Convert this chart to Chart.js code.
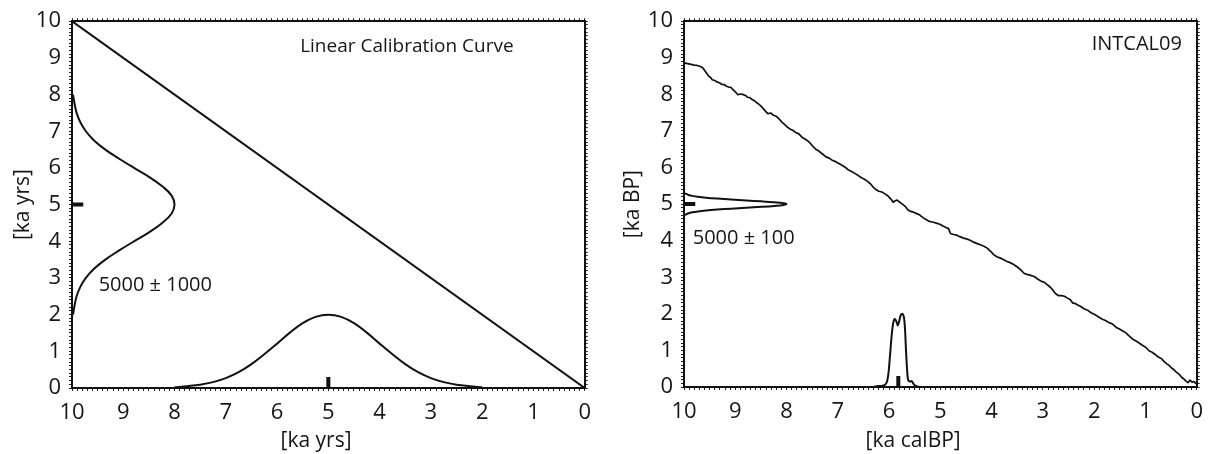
<!DOCTYPE html>
<html>
<head>
<meta charset="utf-8">
<script src="https://cdn.jsdelivr.net/npm/chart.js@4.4.1/dist/chart.umd.min.js"></script>
<style>
  html, body { margin: 0; padding: 0; background: #fff; }
  #wrap { position: relative; width: 1212px; height: 454px; }
  canvas { position: absolute; top: 0; }
  #calLinear { left: 0; }
  #calIntcal { left: 600px; }
</style>
</head>
<body>
<div id="wrap">
  <canvas id="calLinear" width="600" height="454"></canvas>
  <canvas id="calIntcal" width="612" height="454"></canvas>
</div>
<script>
// ---- left panel: linear calibration ----
const linearCurveX = [10, 0];
const linearCurveY = [10, 0];

// 5000 ± 1000 radiocarbon age, drawn along the y axis
const wideAgeY = [2, 2.25, 2.5, 2.75, 3, 3.25, 3.5, 3.75, 4, 4.25, 4.5, 4.75, 5,
                  5.25, 5.5, 5.75, 6, 6.25, 6.5, 6.75, 7, 7.25, 7.5, 7.75, 8];
const wideAgeX = [9.98, 9.95, 9.91, 9.84, 9.73, 9.57, 9.35, 9.08, 8.79, 8.49, 8.24, 8.06, 8.0,
                  8.06, 8.24, 8.49, 8.79, 9.08, 9.35, 9.57, 9.73, 9.84, 9.91, 9.95, 9.98];

// calibrated age, drawn along the x axis
const wideCalX = [8, 7.75, 7.5, 7.25, 7, 6.75, 6.5, 6.25, 6, 5.75, 5.5, 5.25, 5,
                  4.75, 4.5, 4.25, 4, 3.75, 3.5, 3.25, 3, 2.75, 2.5, 2.25, 2];
const wideCalY = [0.02, 0.05, 0.09, 0.16, 0.27, 0.43, 0.65, 0.92, 1.21, 1.51, 1.77, 1.94, 2.0,
                  1.94, 1.77, 1.51, 1.21, 0.92, 0.65, 0.43, 0.27, 0.16, 0.09, 0.05, 0.02];

// ---- right panel: INTCAL09 ----
const intcalX = [10.00, 9.93, 9.86, 9.80, 9.74, 9.68, 9.63, 9.58, 9.52, 9.48, 9.45, 9.40, 9.36, 9.30,
                 9.26, 9.22, 9.17, 9.13, 9.08, 9.04, 9.00, 8.95, 8.90, 8.86, 8.80, 8.76, 8.72, 8.67,
                 8.62, 8.58, 8.53, 8.48, 8.44, 8.40, 8.36, 8.31, 8.26, 8.20, 8.14, 8.09, 8.04, 7.98,
                 7.93, 7.88, 7.82, 7.76, 7.70, 7.64, 7.58, 7.53, 7.48, 7.43, 7.37, 7.30, 7.23, 7.16,
                 7.10, 7.04, 6.98, 6.92, 6.85, 6.79, 6.73, 6.67, 6.60, 6.54, 6.48, 6.42, 6.36, 6.30,
                 6.25, 6.20, 6.14, 6.08, 6.02, 5.96, 5.92, 5.88, 5.84, 5.79, 5.74, 5.68, 5.63, 5.58,
                 5.52, 5.46, 5.40, 5.34, 5.28, 5.22, 5.15, 5.08, 5.01, 4.95, 4.89, 4.84, 4.80, 4.74,
                 4.68, 4.62, 4.55, 4.49, 4.42, 4.35, 4.28, 4.21, 4.14, 4.08, 4.02, 3.96, 3.90, 3.84,
                 3.78, 3.71, 3.64, 3.57, 3.50, 3.43, 3.37, 3.31, 3.24, 3.17, 3.11, 3.04, 2.97, 2.91,
                 2.85, 2.80, 2.75, 2.70, 2.64, 2.58, 2.52, 2.47, 2.42, 2.37, 2.32, 2.26, 2.20, 2.13,
                 2.06, 1.99, 1.92, 1.85, 1.78, 1.71, 1.64, 1.57, 1.50, 1.44, 1.38, 1.32, 1.26, 1.20,
                 1.13, 1.06, 0.99, 0.93, 0.87, 0.81, 0.75, 0.69, 0.64, 0.59, 0.54, 0.49, 0.45, 0.41,
                 0.37, 0.33, 0.29, 0.25, 0.21, 0.17, 0.13, 0.09, 0.05, 0.02, 0.00];
const intcalY = [8.86, 8.84, 8.82, 8.80, 8.79, 8.76, 8.72, 8.62, 8.50, 8.46, 8.40, 8.38, 8.34, 8.31,
                 8.27, 8.27, 8.22, 8.20, 8.19, 8.12, 8.07, 7.99, 8.01, 8.00, 7.97, 7.92, 7.91, 7.86,
                 7.82, 7.77, 7.72, 7.65, 7.59, 7.52, 7.47, 7.49, 7.43, 7.40, 7.32, 7.24, 7.18, 7.10,
                 7.05, 7.02, 6.96, 6.92, 6.83, 6.78, 6.72, 6.65, 6.57, 6.50, 6.45, 6.37, 6.29, 6.25,
                 6.19, 6.16, 6.11, 6.06, 6.00, 5.93, 5.89, 5.84, 5.78, 5.72, 5.68, 5.62, 5.55, 5.45,
                 5.39, 5.35, 5.33, 5.28, 5.22, 5.13, 5.05, 5.09, 5.11, 5.05, 5.00, 4.93, 4.84, 4.80,
                 4.78, 4.74, 4.70, 4.63, 4.58, 4.53, 4.51, 4.48, 4.45, 4.40, 4.36, 4.33, 4.19, 4.17,
                 4.15, 4.11, 4.07, 4.05, 4.01, 3.96, 3.92, 3.88, 3.84, 3.79, 3.71, 3.62, 3.56, 3.53,
                 3.49, 3.44, 3.40, 3.35, 3.28, 3.20, 3.11, 3.08, 3.05, 3.02, 2.96, 2.90, 2.86, 2.79,
                 2.72, 2.64, 2.55, 2.50, 2.50, 2.48, 2.43, 2.39, 2.30, 2.28, 2.24, 2.20, 2.14, 2.10,
                 2.03, 1.98, 1.92, 1.86, 1.82, 1.76, 1.72, 1.63, 1.58, 1.53, 1.48, 1.40, 1.32, 1.27,
                 1.21, 1.14, 1.08, 0.99, 0.95, 0.89, 0.82, 0.78, 0.70, 0.64, 0.59, 0.52, 0.48, 0.42,
                 0.38, 0.33, 0.26, 0.22, 0.16, 0.12, 0.19, 0.13, 0.15, 0.10, 0.10];

// 5000 ± 100 radiocarbon age along the y axis
const narrowAgeY = [4.7, 4.725, 4.75, 4.775, 4.8, 4.825, 4.85, 4.875, 4.9, 4.925, 4.95, 4.975, 5,
                    5.025, 5.05, 5.075, 5.1, 5.125, 5.15, 5.175, 5.2, 5.225, 5.25, 5.275, 5.3];
const narrowAgeX = [9.98, 9.95, 9.91, 9.84, 9.73, 9.57, 9.35, 9.08, 8.79, 8.49, 8.24, 8.06, 8.0,
                    8.06, 8.24, 8.49, 8.79, 9.08, 9.35, 9.57, 9.73, 9.84, 9.91, 9.95, 9.98];

// calibrated result (two humps)
const narrowCalX = [6.30, 6.25, 6.15, 6.08, 6.04, 6.01, 5.98, 5.95, 5.92, 5.89, 5.86, 5.83, 5.80,
                    5.77, 5.74, 5.71, 5.69, 5.67, 5.65, 5.63, 5.60, 5.56, 5.52, 5.47, 5.40];
const narrowCalY = [0, 0.02, 0.03, 0.06, 0.15, 0.4, 0.9, 1.4, 1.75, 1.86, 1.80, 1.68, 1.82,
                    1.97, 2.0, 1.9, 1.6, 1.0, 0.5, 0.2, 0.15, 0.16, 0.08, 0.02, 0];

// little marks for the measured / mean ages
const ageMarkX = [10, 9.78];
const ageMarkY = [5, 5];
const linearCalMarkX = [5, 5];
const intcalCalMarkX = [5.82, 5.82];
const calMarkY = [0, 0.3];

const FONT = "'Open Sans', 'Liberation Sans', sans-serif";
const INK = '#111';
const TEXT = '#161616';

function pts(xs, ys) {
    return xs.map((x, i) => ({ x: x, y: ys[i] }));
}

function line(xs, ys, extra) {
    return Object.assign({
        data: pts(xs, ys),
        showLine: true,
        borderColor: INK,
        borderWidth: 2,
        pointRadius: 0,
        tension: 0,
        xAxisID: 'x',
        yAxisID: 'y'
    }, extra || {});
}

// only whole numbers get a label, the rest are ruler ticks
function intLabel(v) {
    const r = Math.round(v);
    return Math.abs(v - r) < 1e-6 ? String(r) : '';
}

// texts inside the plot, placed in data units
function notesPlugin(items) {
    return {
        id: 'notes',
        afterDraw(chart) {
            const ctx = chart.ctx;
            const sx = chart.scales.x, sy = chart.scales.y;
            ctx.save();
            ctx.fillStyle = TEXT;
            ctx.textBaseline = 'middle';
            items.forEach(n => {
                ctx.font = n.size + 'px ' + FONT;
                ctx.textAlign = n.align || 'left';
                const px = sx.getPixelForValue(n.x);
                const py = n.y !== undefined ? sy.getPixelForValue(n.y) : chart.height - n.fromBottom;
                ctx.fillText(n.text, px, py);
            });
            ctx.restore();
        }
    };
}

function axis(pos, size, showLabels, box, title) {
    const horizontal = pos === 'top' || pos === 'bottom';
    return {
        type: 'linear',
        position: pos,
        min: 0,
        max: 10,
        reverse: horizontal,
        ticks: {
            display: showLabels,
            stepSize: 0.1,
            autoSkip: false,
            maxRotation: 0,
            minRotation: 0,
            callback: intLabel,
            font: { family: FONT, size: 22 },
            color: TEXT,
            padding: horizontal ? 9 : 8
        },
        grid: {
            drawOnChartArea: false,
            tickLength: 3,
            tickColor: '#222',
            tickWidth: 1
        },
        border: { color: INK, width: 2 },
        title: title ? {
            display: true,
            text: title,
            font: { family: FONT, size: 21 },
            color: TEXT,
            padding: { top: box.yTitlePad, bottom: 0 }
        } : { display: false },
        afterFit: function(s) {
            if (horizontal) s.height = size; else s.width = size;
        }
    };
}

function makePanel(canvasId, box, datasets, notes, yTitle) {
    return new Chart(document.getElementById(canvasId), {
        type: 'scatter',
        data: { datasets: datasets },
        options: {
            responsive: false,
            animation: false,
            devicePixelRatio: 1,
            layout: { padding: { left: 0, right: box.padRight, top: box.padTop, bottom: 0 } },
            plugins: { legend: { display: false }, tooltip: { enabled: false } },
            scales: {
                x: axis('bottom', box.axisH, true, box),
                xTop: axis('top', 0, false, box),
                y: axis('left', box.axisW, true, box, yTitle),
                yRight: axis('right', 0, false, box)
            }
        },
        plugins: [notesPlugin(notes)]
    });
}

const app = {
    drawLinear: function() {
        makePanel('calLinear',
            { axisW: 72, axisH: 66, padRight: 13, padTop: 19, yTitlePad: 10 },
            [
                line(linearCurveX, linearCurveY),
                line(wideAgeX, wideAgeY, { tension: 0.4 }),
                line(wideCalX, wideCalY, { tension: 0.4 }),
                line(ageMarkX, ageMarkY, { borderWidth: 4, borderCapStyle: 'butt' }),
                line(linearCalMarkX, calMarkY, { borderWidth: 4, borderCapStyle: 'butt' })
            ],
            [
                { text: 'Linear Calibration Curve', x: 5.55, y: 9.3, size: 19 },
                { text: '5000 ± 1000', x: 9.48, y: 2.79, size: 20 },
                { text: '[ka yrs]', x: 5.24, fromBottom: 13, size: 21, align: 'center' }
            ],
            '[ka yrs]');
    },

    drawIntcal: function() {
        makePanel('calIntcal',
            { axisW: 84, axisH: 67, padRight: 11, padTop: 18, yTitlePad: 20 },
            [
                line(intcalX, intcalY, { borderWidth: 1.7, borderJoinStyle: 'round' }),
                line(narrowAgeX, narrowAgeY, { tension: 0.4 }),
                line(narrowCalX, narrowCalY, { tension: 0.3 }),
                line(ageMarkX, ageMarkY, { borderWidth: 4, borderCapStyle: 'butt' }),
                line(intcalCalMarkX, calMarkY, { borderWidth: 4, borderCapStyle: 'butt' })
            ],
            [
                { text: 'INTCAL09', x: 0.29, y: 9.38, size: 20, align: 'right' },
                { text: '5000 ± 100', x: 9.83, y: 4.07, size: 20 },
                { text: '[ka calBP]', x: 5.53, fromBottom: 13, size: 21, align: 'center' }
            ],
            '[ka BP]');
    },

    start: function() {
        this.drawLinear();
        this.drawIntcal();
    }
};

app.start();
</script>
</body>
</html>
